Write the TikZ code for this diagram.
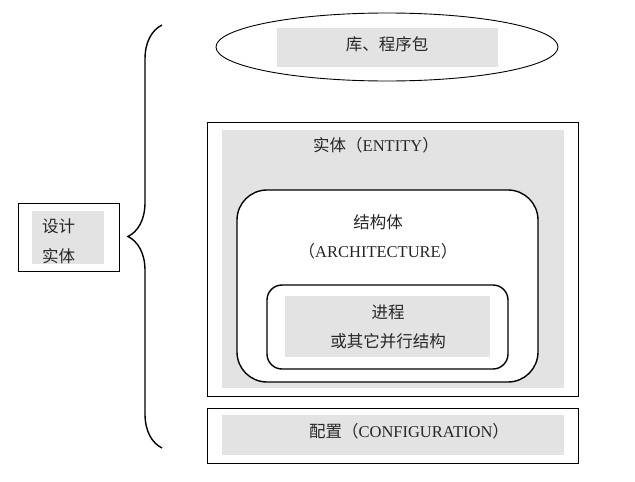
\documentclass[tikz,border=0pt]{standalone}
\usepackage{fontspec}
\setmainfont{Liberation Serif}
\newfontfamily\cjk{Noto Sans CJK SC}
\usetikzlibrary{positioning, shapes.geometric, decorations.pathreplacing}
\tikzset{
x=1pt, y=-1pt, % one unit is one pixel of the reference, y runs downwards
frame/.style={draw, line width=0.9pt, inner sep=0pt, outer sep=0pt}, % thin black boxes
shade/.style={fill=gray!22, inner sep=0pt, outer sep=0pt}, % grey fields behind the texts
rounded/.style={draw, fill=white, line width=1.4pt, inner sep=0pt, outer sep=0pt}, % rounded boxes
caption/.style={font=\fontsize{16.5}{19}\selectfont, text=black!85, inner sep=0pt}, % the texts
curly/.style={decorate, decoration={brace, amplitude=34pt, aspect=0.5}, line width=1.4pt}, % the big brace
}
\begin{document}
\begin{tikzpicture}
    \useasboundingbox (0,0) rectangle (635,482);

    % design entity on the left
    \node[frame, minimum width=101, minimum height=68] (design) at (68.5,237) {};
    \node[shade, minimum width=72, minimum height=53] (designbg) at (68,237.5) {};
    \node[caption, anchor=west] (designa) at (42,226) {\cjk 设计};
    \node[caption, anchor=west] (designb) at (42,256) {\cjk 实体};

    % the brace
    \coordinate (brbot) at (162,448);
    \coordinate (brtop) at (162,25);
    \draw[curly] (brbot) -- (brtop);

    % library and packages
    \node[ellipse, draw, line width=0.9pt, minimum width=342, minimum height=68, inner sep=0pt] (lib) at (387,47) {};
    \node[shade, minimum width=221, minimum height=39] (libbg) at (387.5,47.5) {};
    \node[caption] (libtext) at (387,44) {\cjk 库、程序包};

    % entity
    \node[frame, minimum width=371, minimum height=274] (entity) at (392.5,259) {};
    \node[shade, minimum width=342, minimum height=258] (entitybg) at (393,259) {};
    \node[caption] (entitytext) at (376,145) {{\cjk 实体（}ENTITY{\cjk ）}};

    % architecture
    \node[rounded, rounded corners=30, minimum width=301, minimum height=192] (arch) at (387.5,286) {};
    \node[caption] (archa) at (378,222) {\cjk 结构体};
    \node[caption] (archb) at (378,251) {{\cjk （}ARCHITECTURE{\cjk ）}};

    % process
    \node[rounded, rounded corners=15, minimum width=241, minimum height=84] (proc) at (387.5,327) {};
    \node[shade, minimum width=205, minimum height=61] (procbg) at (387.5,326.5) {};
    \node[caption] (proca) at (388,312) {\cjk 进程};
    \node[caption] (procb) at (388,341) {\cjk 或其它并行结构};

    % configuration
    \node[frame, minimum width=371, minimum height=55] (config) at (392.5,435.5) {};
    \node[shade, minimum width=342, minimum height=40] (configbg) at (393,435) {};
    \node[caption] (configtext) at (409,431) {{\cjk 配置（}CONFIGURATION{\cjk ）}};
\end{tikzpicture}
\end{document}
